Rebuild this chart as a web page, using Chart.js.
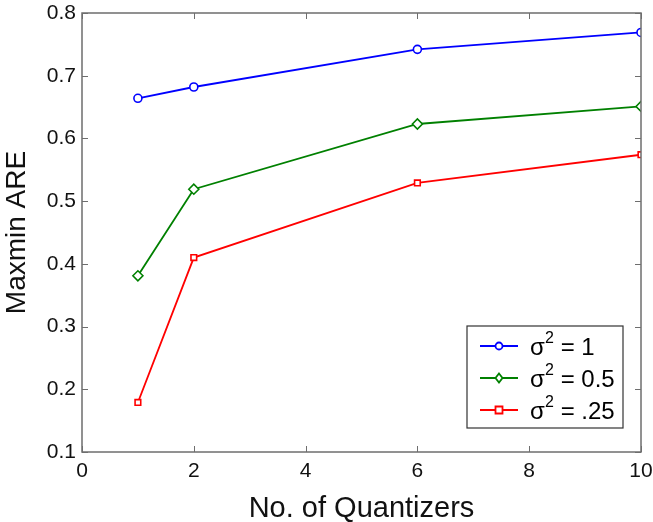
<!DOCTYPE html>
<html>
<head>
<meta charset="utf-8">
<script src="https://cdn.jsdelivr.net/npm/chart.js"></script>
<style>
  html, body { margin: 0; padding: 0; background: #fff; }
  #wrap { width: 653px; height: 522px; }
</style>
</head>
<body>
<div id="wrap"><canvas id="chart1" width="653" height="522"></canvas></div>
<script>
// values
var quantizers = [1, 2, 6, 10];
var areVar1 = [0.664, 0.682, 0.742, 0.769];
var areVar05 = [0.381, 0.519, 0.623, 0.651];
var areVar025 = [0.179, 0.410, 0.529, 0.574];
var legendLabels = ['= 1', '= 0.5', '= .25'];
var xTicks = [0, 2, 4, 6, 8, 10];
var yTicks = [0.1, 0.2, 0.3, 0.4, 0.5, 0.6, 0.7, 0.8];

function pts(ys) {
  return quantizers.map(function (x, i) { return { x: x, y: ys[i] }; });
}

var font = '"Liberation Sans", Arial, sans-serif';

// matlab style box with inward ticks + legend with superscript
var matlabBox = {
  id: 'matlabBox',
  afterDraw: function (chart) {
    var ctx = chart.ctx, a = chart.chartArea;
    var xs = chart.scales.x, ys = chart.scales.y;
    ctx.save();
    ctx.strokeStyle = '#6e6e6e';
    ctx.lineWidth = 1.5;
    ctx.strokeRect(a.left, a.top, a.right - a.left, a.bottom - a.top);
    ctx.lineWidth = 1;
    xTicks.forEach(function (v) {
      var px = Math.round(xs.getPixelForValue(v)) + 0.5;
      ctx.beginPath();
      ctx.moveTo(px, a.bottom); ctx.lineTo(px, a.bottom - 6);
      ctx.moveTo(px, a.top); ctx.lineTo(px, a.top + 6);
      ctx.stroke();
    });
    yTicks.forEach(function (v) {
      var py = Math.round(ys.getPixelForValue(v)) + 0.5;
      ctx.beginPath();
      ctx.moveTo(a.left, py); ctx.lineTo(a.left + 6, py);
      ctx.moveTo(a.right, py); ctx.lineTo(a.right - 6, py);
      ctx.stroke();
    });

    // legend
    var bx = 467, by = 326, bw = 156, bh = 102;
    ctx.fillStyle = '#fff';
    ctx.fillRect(bx, by, bw, bh);
    ctx.strokeStyle = '#333';
    ctx.lineWidth = 1.2;
    ctx.strokeRect(bx, by, bw, bh);
    chart.data.datasets.forEach(function (ds, i) {
      var cy = by + 20 + i * 32;
      ctx.strokeStyle = ds.borderColor;
      ctx.lineWidth = 1.8;
      ctx.beginPath();
      ctx.moveTo(480, cy); ctx.lineTo(518, cy);
      ctx.stroke();
      ctx.beginPath();
      if (ds.pointStyle === 'circle') {
        ctx.arc(499, cy, 3.5, 0, Math.PI * 2);
      } else if (ds.pointStyle === 'rectRot') {
        ctx.moveTo(499, cy - 4.5); ctx.lineTo(502.5, cy); ctx.lineTo(499, cy + 4.5); ctx.lineTo(495.5, cy); ctx.closePath();
      } else {
        ctx.rect(495.5, cy - 3.5, 7, 7);
      }
      ctx.fillStyle = '#fff';
      ctx.fill();
      ctx.stroke();
      ctx.fillStyle = '#000';
      ctx.textBaseline = 'alphabetic';
      ctx.textAlign = 'left';
      ctx.font = '24px ' + font;
      ctx.fillText('\u03c3', 530, cy + 9);
      ctx.font = '16px ' + font;
      ctx.fillText('2', 545, cy - 3);
      ctx.font = '24px ' + font;
      ctx.fillText(' ' + legendLabels[i], 554, cy + 9);
    });
    ctx.restore();
  }
};

var ch1 = document.getElementById('chart1').getContext('2d');
var chart1 = new Chart(ch1, {
  type: 'line',
  data: {
    datasets: [
      {
        label: 'sigma2 = 1',
        data: pts(areVar1),
        borderColor: '#0000ff',
        pointStyle: 'circle',
        pointRadius: 4
      },
      {
        label: 'sigma2 = 0.5',
        data: pts(areVar05),
        borderColor: '#008000',
        pointStyle: 'rectRot',
        pointRadius: 5
      },
      {
        label: 'sigma2 = .25',
        data: pts(areVar025),
        borderColor: '#ff0000',
        pointStyle: 'rect',
        pointRadius: 4
      }
    ]
  },
  options: {
    responsive: false,
    animation: false,
    devicePixelRatio: 1,
    datasets: {
      line: {
        borderWidth: 1.8,
        tension: 0,
        pointBackgroundColor: '#fff',
        pointBorderWidth: 1.6,
        pointHoverRadius: 4
      }
    },
    layout: { padding: { top: 13, right: 12, left: 0, bottom: 0 } },
    plugins: {
      legend: { display: false },
      tooltip: { enabled: false }
    },
    scales: {
      x: {
        type: 'linear',
        min: 0, max: 10,
        afterBuildTicks: function (s) { s.ticks = xTicks.map(function (v) { return { value: v }; }); },
        afterFit: function (s) { s.height = 70; s.paddingLeft = 0; s.paddingRight = 0; },
        grid: { display: false, drawTicks: false },
        border: { display: false },
        ticks: { color: '#111', font: { family: font, size: 21 }, padding: 7 },
        title: { display: true, text: 'No. of Quantizers', color: '#111', font: { family: font, size: 29, lineHeight: 0.9 }, padding: { top: 10, bottom: 0 } }
      },
      y: {
        type: 'linear',
        min: 0.1, max: 0.8,
        afterBuildTicks: function (s) { s.ticks = yTicks.map(function (v) { return { value: v }; }); },
        afterFit: function (s) { s.width = 82; s.paddingTop = 0; s.paddingBottom = 0; },
        grid: { display: false, drawTicks: false },
        border: { display: false },
        ticks: { color: '#111', font: { family: font, size: 21 }, padding: 6,
          callback: function (v) { return v.toFixed(1); } },
        title: { display: true, text: 'Maxmin ARE', color: '#111', font: { family: font, size: 28 }, padding: { top: 0, bottom: 2 } }
      }
    }
  },
  plugins: [matlabBox]
});
</script>
</body>
</html>
